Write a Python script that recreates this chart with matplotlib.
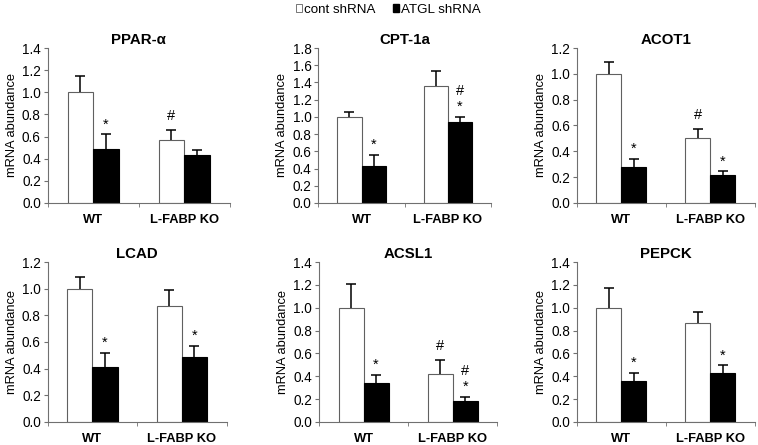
import matplotlib
matplotlib.use("Agg")
import matplotlib.pyplot as plt
from matplotlib.patches import Patch
import numpy as np

plt.rcParams['font.family'] = ['Liberation Sans', 'DejaVu Sans']

# data
genes = ['PPAR-α', 'CPT-1a', 'ACOT1', 'LCAD', 'ACSL1', 'PEPCK']
groups = ['WT', 'L-FABP KO']
cont_mean = [[1.0, 0.57], [1.0, 1.36], [1.0, 0.50], [1.0, 0.87], [1.0, 0.42], [1.0, 0.87]]
cont_err = [[0.15, 0.09], [0.06, 0.17], [0.09, 0.075], [0.09, 0.12], [0.21, 0.125], [0.17, 0.09]]
atgl_mean = [[0.49, 0.43], [0.43, 0.94], [0.28, 0.22], [0.41, 0.49], [0.34, 0.18], [0.36, 0.43]]
atgl_err = [[0.13, 0.05], [0.13, 0.06], [0.06, 0.025], [0.11, 0.08], [0.075, 0.04], [0.07, 0.065]]
ymax = [1.4, 1.8, 1.2, 1.2, 1.4, 1.4]
# significance marks (top to bottom) per bar
cont_marks = [['', '#'], ['', ''], ['', '#'], ['', ''], ['', '#'], ['', '']]
atgl_marks = [['*', ''], ['*', '#\n*'], ['*', '*'], ['*', '*'], ['*', '#\n*'], ['*', '*']]

# axes boxes in figure fraction [left, bottom, width, height]
boxes = [[0.063, 0.544, 0.240, 0.348], [0.420, 0.544, 0.228, 0.348], [0.761, 0.544, 0.235, 0.348],
         [0.063, 0.052, 0.236, 0.359], [0.421, 0.052, 0.235, 0.359], [0.761, 0.052, 0.235, 0.359]]

fig = plt.figure(figsize=(7.58, 4.45), dpi=100)


def upper_errorbar(ax, xs, means, errs):
    # only the upper half of the error bar is shown
    _, caps, _ = ax.errorbar(xs, means, yerr=[[0] * len(errs), errs], fmt='none',
                             ecolor='black', elinewidth=1.1, capsize=3.5, capthick=1.1)
    caps[0].set_visible(False)


w = 0.28
x = np.arange(len(groups))
for i in range(len(genes)):
    ax = fig.add_axes(boxes[i])
    ax.bar(x - w / 2, cont_mean[i], w, color='white', edgecolor='#606060', linewidth=0.8)
    ax.bar(x + w / 2, atgl_mean[i], w, color='black', edgecolor='black', linewidth=0.8)
    upper_errorbar(ax, x - w / 2, cont_mean[i], cont_err[i])
    upper_errorbar(ax, x + w / 2, atgl_mean[i], atgl_err[i])
    for j in range(len(groups)):
        if cont_marks[i][j]:
            ax.annotate(cont_marks[i][j], (x[j] - w / 2, cont_mean[i][j] + cont_err[i][j]),
                        xytext=(0, 5), textcoords='offset points', ha='center', va='bottom',
                        fontsize=10.5, linespacing=1.2)
        if atgl_marks[i][j]:
            ax.annotate(atgl_marks[i][j], (x[j] + w / 2, atgl_mean[i][j] + atgl_err[i][j]),
                        xytext=(0, 2), textcoords='offset points', ha='center', va='bottom',
                        fontsize=10.5, linespacing=1.2)
    ax.set_xlim(-0.5, 1.5)
    ax.set_ylim(0, ymax[i])
    ax.set_yticks(np.arange(0, ymax[i] + 0.01, 0.2))
    ax.set_yticklabels(['%.1f' % v for v in np.arange(0, ymax[i] + 0.01, 0.2)], fontsize=9.8)
    ax.set_xticks(x)
    ax.set_xticklabels(groups, fontsize=9.3, fontweight='bold')
    ax.set_xticks([-0.5, 0.5, 1.5], minor=True)
    ax.tick_params(axis='x', which='major', length=0, pad=8)
    ax.tick_params(axis='x', which='minor', length=3, direction='out', color='#707070')
    ax.tick_params(axis='y', length=3, color='#707070', pad=2)
    for s in ['top', 'right']:
        ax.spines[s].set_visible(False)
    for s in ['left', 'bottom']:
        ax.spines[s].set_color('#707070')
        ax.spines[s].set_linewidth(0.8)
    ax.set_ylabel('mRNA abundance', fontsize=9.3, labelpad=3)
    ax.set_title(genes[i], fontsize=10.8, fontweight='bold', pad=3)

handles = [Patch(facecolor='white', edgecolor='#606060', linewidth=0.6),
           Patch(facecolor='black', edgecolor='black')]
fig.legend(handles, ['cont shRNA', 'ATGL shRNA'], loc='center', bbox_to_anchor=(0.512, 0.978),
           ncol=2, frameon=False, fontsize=9.6, handlelength=0.45, handleheight=0.45,
           handletextpad=0.15, columnspacing=1.3)

fig.savefig('out.png', dpi=100)
